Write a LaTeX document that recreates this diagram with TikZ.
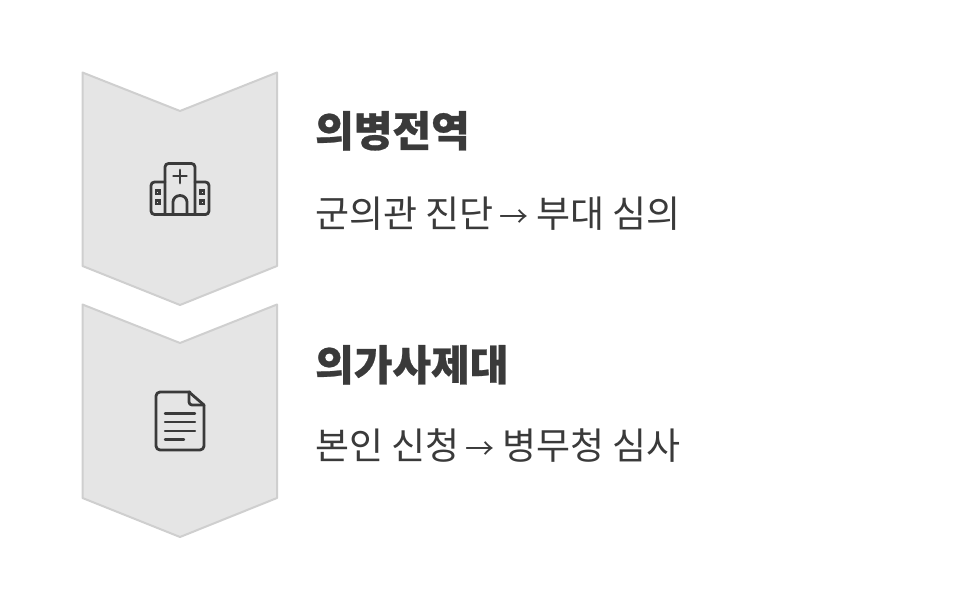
\documentclass[tikz,border=0pt]{standalone}
\usepackage{fontspec}
\newfontfamily\krlight{Noto Sans CJK KR}
\newfontfamily\krbold{Noto Sans CJK KR Black}[FakeBold=0.6]
\newcommand{\arr}{\kern-2pt{\fontsize{29}{29}\selectfont →}\kern-1pt}
\definecolor{ink}{HTML}{3A3A3A}
\definecolor{chevfill}{HTML}{E5E5E5}
\definecolor{chevline}{HTML}{CFCFCF}
\tikzset{
  chev/.style={fill=chevfill,draw=chevline,line width=2pt,line join=round},
  icon/.style={draw=ink,line width=2.8pt,line join=round,line cap=round},
  titletext/.style={anchor=base west,inner sep=0pt,text=ink,font=\krbold\fontsize{42}{42}\selectfont},
  bodytext/.style={anchor=base west,inner sep=0pt,text=ink,font=\krlight\fontsize{37}{37}\selectfont},
}
\begin{document}
\begin{tikzpicture}[x=1pt,y=-1pt]
\useasboundingbox (0,0) rectangle (976,602);
\fill[white] (0,0) rectangle (976,602);
\draw[chev] (82.5,72.5) -- (180,111) -- (277,72.5) -- (277,266) -- (180,305) -- (82.5,266) -- cycle;
\draw[chev] (82.5,304.5) -- (180,343) -- (277,304.5) -- (277,498) -- (180,537) -- (82.5,498) -- cycle;
% hospital
\draw[icon,rounded corners=3.5pt] (165,214.5) -- (165,163.5) -- (195,163.5) -- (195,214.5);
\draw[icon,rounded corners=3.5pt] (165,182) -- (151,182) -- (151,214.5) -- (209,214.5) -- (209,182) -- (195,182);
\draw[icon] (180,170) -- (180,183) (173.5,176) -- (186.5,176);
\draw[icon] (173,214) -- (173,202) arc (180:360:7 and 6.5) -- (187,214);
\draw[draw=ink,line width=2.4pt] (156,190.5) rectangle (159.5,194) (156,200.5) rectangle (159.5,204) (200.5,190.5) rectangle (204,194) (200.5,200.5) rectangle (204,204);
% document
\draw[icon,rounded corners=4pt] (190,392) -- (156,392) -- (156,450) -- (204,450) -- (204,405);
\draw[icon,rounded corners=3pt] (189,392) -- (189,405) -- (204,405);
\draw[icon] (189,392) -- (204,405);
\draw[icon,line width=2.4pt] (165,413.5) -- (195,413.5) (165,422) -- (195,422) (165,431) -- (195,431) (165,439.5) -- (184,439.5);
% text
\node[titletext] (t1) at (315,146.5) {의병전역};
\node[bodytext] (b1) at (315,227) {군의관 진단 \arr{} 부대 심의};
\node[titletext] (t2) at (315,380.5) {의가사제대};
\node[bodytext] (b2) at (315,459) {본인 신청 \arr{} 병무청 심사};
\end{tikzpicture}
\end{document}
